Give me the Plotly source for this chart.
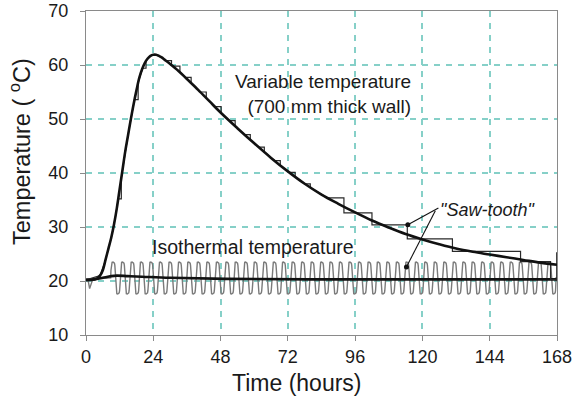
import plotly.graph_objects as go

# ---- Variable temperature (700 mm thick wall), smooth curve ----
var_t = [0, 2, 4, 5, 6, 7, 8, 9, 10, 11, 12, 13, 14, 15, 16, 17, 18, 19, 20, 21,
         22, 23, 24, 25, 26, 27, 28, 30, 33, 36, 40, 44, 48, 54, 60, 66, 72, 78,
         84, 90, 96, 102, 108, 114, 120, 126, 132, 138, 144, 150, 156, 162, 168]
var_T = [20.2, 20.2, 20.5, 21.0, 22.0, 24.0, 26.0, 28.0, 30.5, 33.5, 37.0, 40.5,
         44.0, 47.0, 50.0, 52.8, 55.3, 57.6, 59.2, 60.4, 61.2, 61.7, 61.9, 61.9,
         61.7, 61.4, 61.0, 60.2, 58.9, 57.4, 55.4, 53.3, 51.2, 48.3, 45.5, 42.8,
         40.3, 38.0, 36.0, 34.3, 32.7, 31.2, 29.9, 28.7, 27.7, 26.8, 26.0, 25.4,
         24.9, 24.4, 23.9, 23.4, 23.0]

# ---- "Saw-tooth" path of the variable temperature (holds, then jumps) ----
step_t = [0, 5, 7, 9, 10.5, 11.5, 12.6, 12.6, 15, 17.3, 18.6, 18.6, 20.2, 21.4,
          21.4, 23, 25, 27, 28.5, 30.5, 30.5, 31.5, 33.5, 33.5, 35.5, 37.5, 37.5,
          40.9, 42.9, 42.9, 46.2, 48.2, 48.2, 51.2, 53.2, 53.2, 56.6, 58.6, 58.6,
          61.6, 63.6, 63.6, 67.3, 69.3, 69.3, 72.6, 74.6, 74.6, 78, 80, 80, 86,
          92, 92, 102, 102, 114.6, 114.6, 130.7, 130.7, 155, 155, 165.7, 165.7,
          167.9, 167.9, 168]
step_T = [20.2, 21.0, 24.0, 28.0, 31.9, 35.2, 35.2, 39.1, 47.0, 53.6, 53.6, 56.7,
          59.4, 59.4, 60.7, 61.7, 61.9, 61.4, 60.8, 60.8, 60.0, 59.8, 59.8, 58.7,
          57.7, 57.7, 56.7, 55.0, 55.0, 53.9, 52.3, 52.3, 51.1, 49.7, 49.7, 48.7,
          47.1, 47.1, 46.1, 44.8, 44.8, 43.9, 42.3, 42.3, 41.4, 40.1, 40.1, 39.3,
          38.0, 38.0, 37.3, 35.4, 35.4, 32.6, 32.6, 30.4, 30.4, 27.8, 27.8, 25.5,
          25.5, 23.6, 23.6, 20.3, 20.3, 25.2, 25.2]

# ---- Isothermal temperature, smooth curve ----
iso_t = [0, 3, 6, 9, 11, 15, 20, 30, 50, 80, 120, 168]
iso_T = [20.2, 20.3, 20.6, 20.9, 21.0, 20.9, 20.8, 20.6, 20.4, 20.3, 20.3, 20.3]

# ---- Isothermal "saw-tooth": lead-in, one cycle profile, cycle onsets ----
iso_saw_lead_t = [0, 0.8, 1.3, 1.8, 2.4, 4.0, 8.0]
iso_saw_lead_T = [20.2, 20.0, 18.6, 19.4, 20.3, 20.4, 20.6]
cycle_phase = [0, 0.03, 0.06, 0.10, 0.15, 0.25, 0.35, 0.40, 0.44, 0.47, 0.50,
               0.53, 0.56, 0.60, 0.65, 0.75, 0.85, 0.90, 0.94, 0.97]
cycle_T = [20.6, 22.0, 22.9, 23.3, 23.45, 23.5, 23.45, 23.3, 22.9, 22.0, 20.6,
           19.2, 18.2, 17.8, 17.65, 17.6, 17.65, 17.8, 18.2, 19.2]
cycle_period = 3.38
cycle_onsets = [8.8, 12.2, 15.6, 18.9, 22.3, 25.7, 29.1, 32.5, 35.8, 39.2, 42.6,
                46.0, 49.4, 52.7, 56.1, 59.5, 62.9, 66.3, 69.6, 73.0, 76.4, 79.8,
                83.2, 86.5, 89.9, 93.3, 96.7, 100.1, 103.4, 106.8, 110.2, 113.6,
                117.0, 120.3, 123.7, 127.1, 130.5, 133.9, 137.2, 140.6, 144.0,
                147.4, 150.8, 154.1, 157.5, 160.9, 164.3]
iso_saw_tail_t = [167.7, 168]
iso_saw_tail_T = [20.6, 20.6]

# ---- leader lines from the "Saw-tooth" label to the two saw-tooth paths ----
leader_t = [125.7, 114.8, None, 124.6, 114.3]
leader_T = [33.5, 30.4, None, 33.0, 22.6]
leader_dot_t = [114.8, 114.3]
leader_dot_T = [30.4, 22.6]

x_ticks = [0, 24, 48, 72, 96, 120, 144, 168]
y_ticks = [10, 20, 30, 40, 50, 60, 70]

# assemble the isothermal saw-tooth path from the cycles
saw_x = list(iso_saw_lead_t)
saw_y = list(iso_saw_lead_T)
for t0 in cycle_onsets:
    for ph, v in zip(cycle_phase, cycle_T):
        saw_x.append(t0 + ph * cycle_period)
        saw_y.append(v)
saw_x += iso_saw_tail_t
saw_y += iso_saw_tail_T

FONT = "Liberation Sans, Arial, sans-serif"
TXT = "#1a1a1a"

fig = go.Figure()
fig.add_trace(go.Scatter(x=saw_x, y=saw_y, mode="lines",
                         line=dict(color="#7a7a7a", width=1.4), hoverinfo="skip"))
fig.add_trace(go.Scatter(x=iso_t, y=iso_T, mode="lines",
                         line=dict(color="#111111", width=2.6, shape="spline")))
fig.add_trace(go.Scatter(x=step_t, y=step_T, mode="lines",
                         line=dict(color="#2a2a2a", width=1.2)))
fig.add_trace(go.Scatter(x=var_t, y=var_T, mode="lines",
                         line=dict(color="#111111", width=2.6, shape="spline")))
fig.add_trace(go.Scatter(x=leader_t, y=leader_T, mode="lines",
                         line=dict(color="#111111", width=1.1)))
fig.add_trace(go.Scatter(x=leader_dot_t, y=leader_dot_T, mode="markers",
                         marker=dict(color="#111111", size=5)))

grid = dict(showgrid=True, gridcolor="#86d0c8", gridwidth=1.5, griddash="6px,6px",
            zeroline=False, showline=True, linecolor="#8a8a8a", linewidth=1.2,
            mirror=True, ticks="outside", ticklen=5, tickcolor="#8a8a8a",
            automargin=False,
            tickfont=dict(family=FONT, size=18, color=TXT))

fig.update_xaxes(range=[0, 168], tickvals=x_ticks, ticklabelstandoff=0, **grid)
fig.update_yaxes(range=[10, 70], tickvals=y_ticks, ticklabelstandoff=8, **grid)

ann = [
    dict(text="Variable temperature<br>(700 mm thick wall)", x=116.8, y=54.6,
         xanchor="right", yanchor="middle", align="right", showarrow=False,
         font=dict(family=FONT, size=19, color=TXT)),
    dict(text="Isothermal temperature", x=59.5, y=26.3, showarrow=False,
         xanchor="center", yanchor="middle",
         font=dict(family=FONT, size=19.5, color=TXT)),
    dict(text="<i>\"Saw-tooth\"</i>", x=143.3, y=33.2, showarrow=False,
         xanchor="center", yanchor="middle",
         font=dict(family=FONT, size=18, color=TXT)),
    dict(text="Temperature ( <sup>o</sup>C)", xref="paper", yref="paper",
         x=-0.140, y=0.565, textangle=-90, showarrow=False,
         xanchor="center", yanchor="middle",
         font=dict(family=FONT, size=23.5, color=TXT)),
    dict(text="Time (hours)", xref="paper", yref="paper", x=0.448, y=-0.148,
         showarrow=False, xanchor="center", yanchor="middle",
         font=dict(family=FONT, size=23, color=TXT)),
]

fig.update_layout(width=577, height=401, margin=dict(l=86, r=20, t=11, b=66),
                  paper_bgcolor="white", plot_bgcolor="white", showlegend=False,
                  annotations=ann)

fig.write_html("out.html")
